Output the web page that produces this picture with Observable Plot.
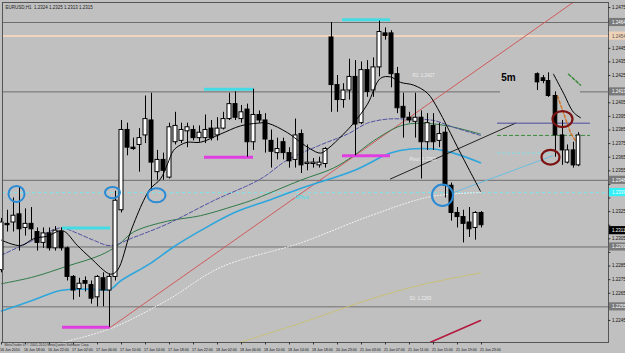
<!DOCTYPE html>
<html><head><meta charset="utf-8">
<script src="https://cdn.jsdelivr.net/npm/d3@7"></script>
<script src="https://cdn.jsdelivr.net/npm/@observablehq/plot@0.6"></script>
<style>html,body{margin:0;padding:0;background:#c0c0c0;overflow:hidden}#chart svg{display:block}</style>
</head><body><div id="chart"></div>
<script>
// ---- H1 candles (bar index = hours from 16 Jun 14:00, weekend skipped)
const barOpen  = [1.2282,1.2316,1.2317,1.2323,1.2313,1.2316,1.2310,1.2302,1.2309,1.2298,1.2310,1.2298,1.2277,1.2268,1.2274,1.2271,1.2262,1.2276,1.2267,1.2277,1.2326,1.2385,1.2372,1.2374,1.2381,1.2392,1.2354,1.2363,1.2350,1.2376,1.2377,1.2384,1.2385,1.2379,1.2379,1.2386,1.2381,1.2386,1.2393,1.2404,1.2393,1.2400,1.2376,1.2396,1.2392,1.2377,1.2368,1.2376,1.2368,1.2363,1.2382,1.2360,1.2360,1.2359,1.2360,1.2453,1.2418,1.2407,1.2414,1.2424,1.2390,1.2429,1.2414,1.2431,1.2456,1.2456,1.2426,1.2402,1.2394,1.2391,1.2394,1.2376,1.2388,1.2377,1.2383,1.2344,1.2324,1.2321,1.2317,1.2313,1.2324];
const barHigh  = [1.2320,1.2326,1.2335,1.2343,1.2327,1.2328,1.2313,1.2313,1.2313,1.2314,1.2313,1.2299,1.2278,1.2276,1.2277,1.2274,1.2278,1.2280,1.2279,1.2340,1.2392,1.2390,1.2379,1.2386,1.2410,1.2412,1.2370,1.2368,1.2390,1.2398,1.2390,1.2390,1.2388,1.2388,1.2396,1.2392,1.2394,1.2398,1.2412,1.2413,1.2403,1.2404,1.2415,1.2399,1.2397,1.2385,1.2379,1.2379,1.2372,1.2393,1.2385,1.2374,1.2364,1.2365,1.2372,1.2464,1.2425,1.2419,1.2437,1.2436,1.2435,1.2436,1.2438,1.2465,1.2460,1.2458,1.2431,1.2412,1.2398,1.2412,1.2399,1.2397,1.2397,1.2390,1.2387,1.2346,1.2328,1.2326,1.2328,1.2325,1.2325];
const barLow   = [1.2280,1.2310,1.2310,1.2296,1.2307,1.2304,1.2296,1.2298,1.2296,1.2296,1.2296,1.2274,1.2260,1.2262,1.2266,1.2257,1.2255,1.2255,1.2240,1.2274,1.2324,1.2366,1.2370,1.2354,1.2375,1.2340,1.2348,1.2348,1.2349,1.2374,1.2375,1.2372,1.2377,1.2376,1.2375,1.2377,1.2377,1.2385,1.2392,1.2392,1.2390,1.2365,1.2370,1.2390,1.2368,1.2357,1.2363,1.2363,1.2357,1.2357,1.2353,1.2355,1.2357,1.2357,1.2357,1.2398,1.2398,1.2401,1.2407,1.2366,1.2389,1.2409,1.2409,1.2424,1.2451,1.2416,1.2397,1.2379,1.2390,1.2379,1.2349,1.2370,1.2370,1.2372,1.2335,1.2318,1.2313,1.2302,1.2306,1.2304,1.2313];
const barClose = [1.2317,1.2315,1.2322,1.2312,1.2316,1.2312,1.2302,1.2309,1.2298,1.2311,1.2298,1.2277,1.2267,1.2272,1.2272,1.2261,1.2277,1.2267,1.2277,1.2333,1.2385,1.2372,1.2371,1.2379,1.2393,1.2361,1.2363,1.2355,1.2387,1.2388,1.2385,1.2387,1.2379,1.2383,1.2385,1.2379,1.2386,1.2393,1.2404,1.2394,1.2398,1.2376,1.2396,1.2392,1.2378,1.2369,1.2371,1.2368,1.2362,1.2381,1.2359,1.2361,1.2361,1.2361,1.2371,1.2418,1.2407,1.2414,1.2424,1.2389,1.2429,1.2413,1.2431,1.2457,1.2454,1.2426,1.2401,1.2394,1.2392,1.2394,1.2376,1.2390,1.2376,1.2382,1.2344,1.2324,1.2321,1.2316,1.2312,1.2324,1.2315];

// ---- 5m inset candles (slot on the same hour axis)
const insetSlot  = [89.33,90.33,91.17,92.33,93.5,94.33,95.33,96.17];
const insetOpen  = [1.2426,1.2423,1.2421,1.2410,1.2381,1.2361,1.2370,1.2359];
const insetHigh  = [1.2427,1.2425,1.2427,1.2413,1.2392,1.2374,1.2376,1.2383];
const insetLow   = [1.2414,1.2419,1.2409,1.2365,1.2359,1.2360,1.2357,1.2358];
const insetClose = [1.2420,1.2421,1.2410,1.2381,1.2370,1.2370,1.2359,1.2381];

// ---- moving averages / curves
const maBlackX = [0,3.17,5.33,7.67,10.17,12.67,14.83,18.17,19.33,21.5,23.67,24.83,26.5,27.67,28.67,29.83,31,33.17,36.5,39.83,42.67,44.33,47.67,49.83,51.5,53.17,54.33,57,58.67,61,63.17,64.83,66.5,68.67,71,72.67,74.33,76.5,79.83];
const maBlackY = [1.2304,1.2300,1.2305,1.2307,1.2311,1.2300,1.2291,1.2279,1.2282,1.2310,1.2333,1.2342,1.2349,1.2360,1.2370,1.2374,1.2376,1.2376,1.2382,1.2388,1.2390,1.2390,1.2383,1.2376,1.2371,1.2368,1.2371,1.2382,1.2390,1.2404,1.2423,1.2424,1.2420,1.2418,1.2412,1.2401,1.2387,1.2368,1.2340];
const maPurpleX = [0,5.33,9.83,12.67,15.33,18.17,22,27.67,35.33,43.17,47.67,53.17,57.67,61,64.33,67.67,72,75.33,79.83];
const maPurpleY = [1.2293,1.2304,1.2313,1.2309,1.2304,1.2300,1.2306,1.2316,1.2333,1.2349,1.2363,1.2374,1.2382,1.2390,1.2393,1.2393,1.2392,1.2387,1.2381];
const maGreenX = [0,5.33,11,16.5,19.33,22,27.67,33.17,38.67,41.5,49.83,55.33,58.67,62,66.5,69.83,74.33,79.83];
const maGreenY = [1.2272,1.2277,1.2285,1.2293,1.2300,1.2310,1.2318,1.2322,1.2329,1.2333,1.2348,1.2357,1.2366,1.2377,1.2388,1.2390,1.2388,1.2382];
const maBlueX = [0,5.33,9.83,14.33,18.17,19.83,24.83,28.67,33.17,38.67,44.33,49.83,58.67,64.83,68.17,72,75.33,79.83];
const maBlueY = [1.2252,1.2260,1.2267,1.2268,1.2268,1.2274,1.2287,1.2299,1.2311,1.2324,1.2333,1.2342,1.2355,1.2368,1.2371,1.2371,1.2368,1.2361];
const maWhiteX = [10.17,18.17,27.67,36.5,49.83,61.5,71.5,79.83];
const maWhiteY = [1.2229,1.2239,1.2260,1.2284,1.2302,1.2322,1.2336,1.2339];
const maKhakiX = [39.83,49.83,61,69.83,79.83];
const maKhakiY = [1.2229,1.2243,1.2260,1.2271,1.2280];
const maRedX = [71.5,79.83];
const maRedY = [1.2229,1.2245];

// ---- drawn trend lines
const trendRedX = [18.17,95.67],  trendRedY = [1.2240,1.2480];
const trendBlackX = [64.83,85.67], trendBlackY = [1.2349,1.2390];
const trendBlueX = [75.33,91.83],  trendBlueY = [1.2339,1.2366];
const insetBlackX = [92,93.67,95.33,96.5], insetBlackY = [1.2426,1.2412,1.2398,1.2394];
const insetGreenX = [94.5,96.5], insetGreenY = [1.2426,1.2418];
const insetOrangeX = [92.67,94.83,95.67], insetOrangeY = [1.2410,1.2383,1.2377];

// ---- levels
const pivotLevels = [1.2464,1.2348,1.2299,1.2255];
const midLevel = 1.2413;
const peachLevel = 1.2454;
const cyanLevel = 1.2339;
const insetLevels = [{p:1.2390,x1:82.67,x2:98.17,c:"#4a4a9a",d:null},{p:1.2381,x1:82.67,x2:98.17,c:"#3c8a3c",d:"4,2"},{p:1.2368,x1:82.67,x2:91.83,c:"#7fe0ea",d:"3,2"}];
const magentaSegs = [{x1:10.17,x2:18.17,p:1.2240},{x1:33.83,x2:42,p:1.2365},{x1:56.83,x2:64.83,p:1.2366}];
const cyanSegs = [{x1:10.17,x2:18.17,p:1.2313},{x1:33.83,x2:42,p:1.2415},{x1:56.83,x2:64.83,p:1.2466}];

// ---- circles (center, radius px, aspect)
const blueCircles = [{x:2.5,p:1.2338,r:8,k:1},{x:18.5,p:1.2339,r:7.5,k:0.75},{x:25.83,p:1.2337,r:9,k:0.78},{x:73.5,p:1.2337,r:10.5,k:1.02}];
const redCircles = [{x:93.5,p:1.2393,r:10,k:0.8},{x:91.5,p:1.2365,r:9,k:0.82}];

// ---- axis labels
const xTickIdx = [0,4,8,12,16,20,24,28,32,36,40,44,48,52,56,60,64,68,72,76,80];
const xTickLabels = ["16 Jun 2010","16 Jun 18:00","16 Jun 22:00","17 Jun 02:00","17 Jun 06:00","17 Jun 10:00","17 Jun 14:00","17 Jun 18:00","17 Jun 22:00","18 Jun 02:00","18 Jun 06:00","18 Jun 10:00","18 Jun 14:00","18 Jun 18:00","20 Jun 23:00","21 Jun 03:00","21 Jun 07:00","21 Jun 11:00","21 Jun 15:00","21 Jun 19:00","21 Jun 23:00"];
const yTickValues = [1.2475,1.2465,1.2455,1.2445,1.2435,1.2425,1.2415,1.2405,1.2395,1.2385,1.2375,1.2365,1.2355,1.2345,1.2335,1.2325,1.2315,1.2305,1.2295,1.2285,1.2275,1.2265,1.2255,1.2245];
const axisBoxes = [{p:1.2464,f:"#7a7a7a",t:"#fff"},{p:1.2454,f:"#f0d2b8",t:"#555"},{p:1.2413,f:"#7a7a7a",t:"#fff"},{p:1.2348,f:"#7a7a7a",t:"#fff"},{p:1.2339,f:"#30f0f8",t:"#fff"},{p:1.2311,f:"#000",t:"#fff"},{p:1.2299,f:"#7a7a7a",t:"#fff"},{p:1.2255,f:"#7a7a7a",t:"#fff"}];

const candles = barOpen.map((o,i)=>({i,o,h:barHigh[i],l:barLow[i],c:barClose[i]}));
const inset = insetOpen.map((o,k)=>({i:insetSlot[k],o,h:insetHigh[k],l:insetLow[k],c:insetClose[k]}));
const pts = (xs,ys)=>xs.map((x,j)=>({x,y:ys[j]}));

function ellipse(k){return {draw(ctx,size){const rx=Math.sqrt(size/Math.PI),ry=rx*k,c=0.5523;
  ctx.moveTo(rx,0);ctx.bezierCurveTo(rx,ry*c,rx*c,ry,0,ry);ctx.bezierCurveTo(-rx*c,ry,-rx,ry*c,-rx,0);
  ctx.bezierCurveTo(-rx,-ry*c,-rx*c,-ry,0,-ry);ctx.bezierCurveTo(rx*c,-ry,rx,-ry*c,rx,0);ctx.closePath();}};}

const X0 = 1/6, X1 = 101 + 1/6, YMIN = 1.22288, YMAX = 1.24787;
const fmt = d3.format(".4f");
const candleMarks = (data, w) => [
  Plot.ruleX(data,{x:"i",y1:"l",y2:"h",stroke:"#000",strokeWidth:1}),
  Plot.rect(data,{x1:d=>d.i-w,x2:d=>d.i+w,y1:"o",y2:"c",fill:d=>d.c>=d.o?"#fff":"#000",stroke:"#000",strokeWidth:1})
];

const chart = Plot.plot({
  width:625,height:353,marginLeft:2,marginRight:17,marginTop:2,marginBottom:11,
  x:{domain:[X0,X1],axis:null},
  y:{domain:[YMIN,YMAX],axis:null},
  style:{background:"#c0c0c0",fontFamily:"Liberation Sans, Arial, sans-serif",overflow:"visible"},
  marks:[
    // levels
    Plot.ruleY(pivotLevels,{stroke:"#6e6e6e",strokeWidth:1}),
    Plot.ruleY([midLevel],{x1:X0,x2:83.17,stroke:"#6e6e6e"}),
    Plot.ruleY([midLevel],{x1:96.5,x2:X1,stroke:"#6e6e6e"}),
    Plot.ruleY([peachLevel],{stroke:"#f0d4be",strokeWidth:2}),
    Plot.ruleY([cyanLevel],{stroke:"#7de4ec",strokeDasharray:"3,3"}),
    // curves
    Plot.line(pts(maKhakiX,maKhakiY),{x:"x",y:"y",stroke:"#c8c07a",strokeWidth:1,curve:"catmull-rom"}),
    Plot.line(pts(maRedX,maRedY),{x:"x",y:"y",stroke:"#b4183c",strokeWidth:1.6}),
    Plot.line(pts(maWhiteX,maWhiteY),{x:"x",y:"y",stroke:"#f6f6f6",strokeWidth:1,strokeDasharray:"1,2",curve:"catmull-rom"}),
    Plot.line(pts(trendRedX,trendRedY),{x:"x",y:"y",stroke:"#d05a5a",strokeWidth:1,clip:true}),
    Plot.line(pts(maBlueX,maBlueY),{x:"x",y:"y",stroke:"#2ea6dc",strokeWidth:1.6,curve:"catmull-rom"}),
    Plot.line(pts(maGreenX,maGreenY),{x:"x",y:"y",stroke:"#2f7a47",strokeWidth:1,curve:"catmull-rom"}),
    Plot.line(pts(maPurpleX,maPurpleY),{x:"x",y:"y",stroke:"#4f4fa3",strokeWidth:1,strokeDasharray:"4,2",curve:"catmull-rom"}),
    Plot.line(pts(trendBlackX,trendBlackY),{x:"x",y:"y",stroke:"#222",strokeWidth:1}),
    Plot.line(pts(trendBlueX,trendBlueY),{x:"x",y:"y",stroke:"#6cbde0",strokeWidth:1}),
    ...insetLevels.map(s=>Plot.ruleY([s.p],{x1:s.x1,x2:s.x2,stroke:s.c,strokeDasharray:s.d})),
    Plot.line(pts(insetBlackX,insetBlackY),{x:"x",y:"y",stroke:"#000",strokeWidth:1,curve:"catmull-rom"}),
    Plot.line(pts(insetGreenX,insetGreenY),{x:"x",y:"y",stroke:"#3c8a3c",strokeDasharray:"3,2"}),
    Plot.line(pts(insetOrangeX,insetOrangeY),{x:"x",y:"y",stroke:"#d2782e",strokeDasharray:"3,2"}),
    // segments
    Plot.ruleY(magentaSegs,{y:"p",x1:"x1",x2:"x2",stroke:"#e03ee0",strokeWidth:3}),
    Plot.ruleY(cyanSegs,{y:"p",x1:"x1",x2:"x2",stroke:"#44dce4",strokeWidth:3}),
    // candles
    ...candleMarks(candles,1/3),
    Plot.line(pts(maBlackX,maBlackY),{x:"x",y:"y",stroke:"#000",strokeWidth:1,curve:"catmull-rom"}),
    ...candleMarks(inset,0.3),
    // circles
    ...blueCircles.map(c=>Plot.dot([c],{x:"x",y:"p",r:c.r,symbol:ellipse(c.k),stroke:"#2a8ad4",strokeWidth:2,fill:"none"})),
    ...redCircles.map(c=>Plot.dot([c],{x:"x",y:"p",r:c.r,symbol:ellipse(c.k),stroke:"#7a1212",strokeWidth:2.2,fill:"none"})),
    // labels
    Plot.text(["5m"],{x:83.3,y:1.2423,text:d=>d,textAnchor:"start",fontSize:10,fontWeight:"bold",fill:"#000"}),
    Plot.text(["R1: 1.2427"],{x:68.5,y:1.2425,text:d=>d,textAnchor:"start",fontSize:4.5,fill:"#eeeeee"}),
    Plot.text(["Pivot: 1.2363"],{x:68.0,y:1.2363,text:d=>d,textAnchor:"start",fontSize:4.5,fill:"#eeeeee"}),
    Plot.text(["S1: 1.2283"],{x:68.0,y:1.2261,text:d=>d,textAnchor:"start",fontSize:4.5,fill:"#eeeeee"}),
    Plot.text(["DPivot"],{x:51.2,y:1.2335,text:d=>d,textAnchor:"end",fontSize:4.5,fill:"#2ee4f0"}),
    Plot.text(["EURUSD,H1  1.2324 1.2325 1.2313 1.2315"],{frameAnchor:"top-left",dx:3,dy:3,text:d=>d,fontSize:4.5,fill:"#222"}),
    Plot.text(["MetaTrader 4, \u00a9 2001-2010 MetaQuotes Software Corp."],{x:0.5,y:YMIN,dy:2.5,text:d=>d,textAnchor:"start",fontSize:3.4,fill:"#333"}),
    Plot.frame({stroke:"#555",strokeWidth:1}),
    // x axis
    Plot.ruleX(xTickIdx,{x:d=>d,y1:YMIN,y2:YMIN-0.00018,stroke:"#333"}),
    Plot.text(xTickIdx,{x:d=>d,y:YMIN,dy:7.5,dx:-1.5,text:(d,j)=>xTickLabels[j],textAnchor:"start",fontSize:3.6,fill:"#111"}),
    // y axis
    Plot.ruleY(yTickValues,{y:d=>d,x1:X1,x2:X1+0.4,stroke:"#333"}),
    Plot.text(yTickValues,{x:X1,y:d=>d,dx:3.5,text:d=>fmt(d),textAnchor:"start",fontSize:4.5,fill:"#111",
      filter:d=>axisBoxes.every(b=>Math.abs(b.p-d)>0.00055)}),
    Plot.rect(axisBoxes,{x1:X1+0.15,x2:X1+3.2,y1:d=>d.p-0.0003,y2:d=>d.p+0.0003,fill:"f"}),
    Plot.text(axisBoxes,{x:X1,y:"p",dx:3.5,text:d=>fmt(d.p),textAnchor:"start",fontSize:4.5,fill:"t"})
  ]
});
document.getElementById("chart").append(chart);
</script>
</body></html>
